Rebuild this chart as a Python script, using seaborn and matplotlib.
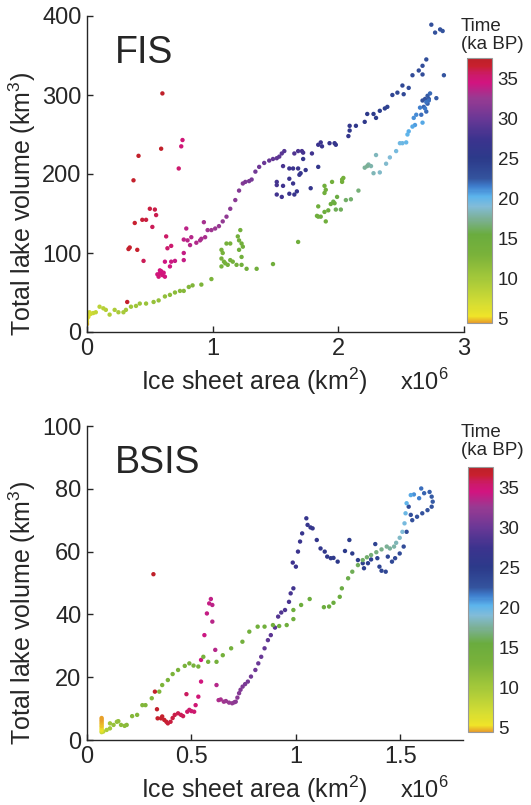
import pandas as pd
import seaborn as sns
import matplotlib.pyplot as plt
from matplotlib.colors import LinearSegmentedColormap, Normalize
from matplotlib.cm import ScalarMappable

# ---- FIS (Fennoscandian ice sheet): area (x10^6 km2), lake volume (km3), time (ka BP)
fis_area = [
    0.60, 0.59, 0.41, 0.37, 0.33, 0.34, 0.40, 0.38, 0.44, 0.47, 0.50, 0.54, 0.55, 0.52, 0.45, 0.32,
    0.63, 0.64, 0.67, 0.73, 0.76, 0.75,
    0.57, 0.58, 0.59, 0.60, 0.61, 0.58, 0.62, 0.56, 0.62, 0.66, 0.67, 0.70, 0.77, 0.77, 0.77, 0.79,
    0.80, 0.83, 0.82, 0.87, 0.90, 0.91, 0.94, 0.93, 0.96, 0.99, 1.02,
    1.05, 1.08, 1.11, 1.14, 1.18, 1.21, 1.24, 1.26, 1.29, 1.31, 1.34, 1.37, 1.41, 1.45, 1.48, 1.51,
    1.53, 1.55, 1.57, 1.65, 1.68, 1.71, 1.72,
    1.79, 1.84, 1.86, 1.87, 1.93, 1.97, 1.98, 2.08, 2.09, 2.09, 2.14, 2.21, 2.23, 2.28, 2.30, 2.33,
    2.37, 2.39, 2.43, 2.47, 2.51, 2.52, 2.56, 2.59, 2.64, 2.67, 2.70, 2.67, 2.74, 2.77, 2.81, 2.83,
    2.84, 2.78,
    1.51, 1.51, 1.51, 1.55, 1.56, 1.56, 1.61, 1.64, 1.68, 1.61, 1.64, 1.61, 1.65, 1.67, 1.69, 1.70,
    1.74, 1.72, 1.78, 1.84,
    2.67, 2.69, 2.71, 2.72, 2.71, 2.68, 2.70, 2.66, 2.72, 2.70, 2.73, 2.69,
    2.65, 2.62, 2.60, 2.61, 2.59, 2.56, 2.55, 2.54, 2.51, 2.49, 2.46, 2.67,
    2.41, 2.38, 2.33, 2.30, 2.28, 2.26, 2.24, 2.21, 2.23,
    2.16, 2.10, 2.06, 2.02, 1.98, 1.96, 1.99, 1.94, 1.97, 1.92, 1.89, 1.86, 1.84, 1.83, 1.84, 1.90,
    1.89, 1.90, 1.89, 1.95, 2.03, 2.04, 2.03,
    1.68, 1.48, 1.35, 1.27, 1.23, 1.23, 1.21, 1.23, 1.24, 1.22, 1.21, 1.20, 1.19, 1.16, 1.14, 1.12,
    1.10, 1.09, 1.07, 1.07, 1.11, 1.14, 1.07, 1.08,
    0.99, 0.91, 0.84, 0.81, 0.77, 0.74, 0.70, 0.66, 0.62, 0.57, 0.53, 0.47, 0.42, 0.39, 0.35, 0.31,
    0.29, 0.25, 0.22, 0.18, 0.15, 0.13, 0.10, 0.07, 0.05, 0.03, 0.02, 0.01, 0.01, 0.00, 0.00, 0.00,
    0.01,
]
fis_volume = [
    302, 232, 223, 192, 105, 107, 104, 138, 142, 142, 156, 155, 148, 133, 90, 38,
    121, 106, 109, 207, 243, 235,
    70, 74, 77, 72, 75, 78, 70, 73, 89, 83, 89, 90, 91, 100, 117, 131,
    116, 120, 110, 113, 116, 118, 120, 139, 129, 129, 131,
    134, 140, 146, 156, 167, 179, 188, 190, 191, 193, 203, 209, 214, 217, 219, 220,
    222, 226, 229, 226, 229, 229, 227,
    226, 237, 240, 235, 239, 239, 237, 248, 261, 255, 261, 266, 276, 276, 271, 280,
    283, 285, 300, 303, 312, 301, 309, 325, 331, 337, 345, 326, 389, 379, 383, 381,
    325, 296,
    186, 190, 174, 171, 185, 210, 207, 207, 207, 194, 188, 175, 174, 178, 199, 201,
    205, 219, 182, 209,
    293, 295, 299, 295, 289, 285, 279, 275, 293, 291, 302, 283,
    284, 275, 271, 262, 260, 254, 250, 240, 239, 239, 229, 265,
    221, 213, 202, 224, 201, 210, 212, 208, 210,
    179, 168, 167, 155, 155, 165, 171, 162, 163, 154, 152, 146, 146, 147, 159, 140,
    176, 180, 185, 190, 190, 195, 193,
    114, 86, 80, 80, 85, 95, 104, 112, 108, 129, 116, 121, 85, 89, 91, 85,
    87, 89, 93, 83, 112, 112, 104, 100,
    67, 60, 59, 57, 52, 52, 50, 47, 45, 40, 38, 36, 36, 33, 32, 28,
    25, 25, 28, 22, 28, 30, 32, 25, 24, 23, 25, 22, 19, 16, 13, 10,
    20,
]
fis_time = [
    37.2, 37.0, 36.9, 36.8, 36.7, 36.6, 36.5, 36.4, 36.3, 36.2, 36.1, 36.0, 35.9, 35.8, 35.7, 36.8,
    35.5, 35.4, 35.3, 35.2, 34.8, 34.9,
    35.0, 34.9, 34.8, 34.7, 34.6, 34.5, 34.6, 34.7, 34.4, 34.3, 34.2, 34.1, 34.0, 33.9, 33.8, 33.7,
    33.6, 33.5, 33.4, 33.3, 33.2, 33.1, 33.0, 32.9, 32.8, 32.7, 32.6,
    32.4, 32.2, 32.0, 31.8, 31.6, 31.4, 31.2, 31.0, 30.8, 30.6, 30.4, 30.2, 30.0, 29.8, 29.6, 29.4,
    29.2, 29.0, 28.8, 28.6, 28.4, 28.2, 28.0,
    27.6, 27.4, 27.2, 27.0, 26.8, 26.6, 26.4, 26.2, 26.0, 25.8, 25.6, 25.4, 25.2, 25.0, 24.8, 24.6,
    24.4, 24.2, 24.0, 23.8, 23.6, 23.5, 23.4, 23.3, 23.2, 23.1, 23.0, 23.1, 22.9, 22.8, 22.7, 22.6,
    22.5, 22.4,
    28.0, 27.9, 27.8, 27.7, 27.6, 28.1, 27.5, 27.4, 27.3, 27.2, 27.1, 27.0, 26.9, 26.8, 26.7, 26.6,
    26.5, 26.4, 26.3, 26.2,
    22.6, 22.5, 22.4, 22.3, 22.2, 22.1, 22.0, 21.9, 21.8, 21.7, 22.0, 21.6,
    21.4, 21.2, 21.0, 20.8, 20.6, 20.4, 20.2, 20.0, 19.8, 19.6, 19.4, 20.5,
    19.0, 18.8, 18.6, 18.4, 18.2, 18.0, 17.8, 17.6, 17.4,
    16.8, 16.6, 16.4, 16.2, 16.0, 15.8, 15.6, 15.4, 15.3, 15.2, 15.1, 15.0, 14.9, 14.8, 14.7, 14.6,
    14.5, 14.4, 14.3, 14.2, 14.1, 14.0, 13.9,
    14.6, 14.55, 14.5, 14.45, 14.4, 14.35, 14.3, 14.25, 14.2, 14.15, 14.1, 14.05, 14.0, 13.95, 13.9, 13.85,
    13.8, 13.75, 13.7, 13.65, 13.6, 13.55, 13.5, 13.45,
    13.0, 12.8, 12.6, 12.4, 12.2, 12.0, 11.8, 11.6, 11.4, 11.2, 11.0, 10.8, 10.6, 10.4, 10.2, 10.0,
    9.8, 9.6, 9.4, 9.2, 9.0, 8.8, 8.6, 8.2, 7.8, 7.4, 7.0, 6.6, 6.2, 5.8, 5.4, 5.0,
    6.4,
]

# ---- BSIS (Barents Sea ice sheet)
bsis_area = [
    0.318, 0.325, 0.335, 0.338, 0.354, 0.36, 0.37, 0.38, 0.387, 0.40, 0.41, 0.42, 0.436, 0.45, 0.46, 0.476,
    0.48, 0.49, 0.50, 0.513,
    0.52, 0.533, 0.546, 0.546, 0.562, 0.574, 0.585, 0.593, 0.60, 0.60, 0.614, 0.62, 0.63, 0.64,
    0.655, 0.665, 0.68, 0.695, 0.705, 0.712, 0.72, 0.728, 0.735, 0.745, 0.757, 0.77, 0.785, 0.806, 0.82, 0.834,
    0.85, 0.866, 0.88, 0.90, 0.915, 0.93, 0.948, 0.967, 0.975, 0.988,
    0.985, 1.00, 1.01, 1.02, 1.03, 1.05, 1.056, 1.07, 1.08, 1.10, 1.118, 1.138, 1.15, 1.167, 1.18, 1.20,
    1.235, 1.256, 1.27, 1.297, 1.32, 1.326, 1.345, 1.36, 1.38, 1.39, 1.40, 1.41, 1.43, 1.44, 1.46, 1.475,
    1.497, 1.516, 1.53, 1.54, 1.55, 1.557, 1.58, 1.605, 1.63, 1.65, 1.655, 1.65, 1.64, 1.614,
    1.60, 1.59, 1.565, 1.55, 1.53, 1.525, 1.52, 1.51, 1.497, 1.48,
    1.47, 1.45, 1.435, 1.41, 1.385, 1.36, 1.34, 1.32, 1.297, 1.27, 1.25, 1.22, 1.21, 1.18, 1.159, 1.134,
    1.066, 1.025, 0.988, 0.988, 0.956, 0.92, 0.89, 0.85, 0.817, 0.777, 0.744, 0.69, 0.65, 0.62, 0.58, 0.557,
    0.533, 0.51, 0.49, 0.468, 0.436, 0.41, 0.387, 0.36, 0.346, 0.31, 0.28, 0.265, 0.24, 0.216, 0.19, 0.18,
    0.163, 0.15, 0.143, 0.127, 0.11, 0.11, 0.094, 0.078, 0.07,
    0.07, 0.07, 0.07, 0.07, 0.07, 0.07, 0.07, 0.07, 0.07,
]
bsis_volume = [
    52.8, 15.4, 9.8, 6.9, 6.9, 7.5, 6.4, 5.8, 5.3, 5.8, 7.0, 8.0, 8.5, 8.0, 7.6, 14.6,
    9.0, 9.6, 9.2, 9.0,
    11.1, 13.8, 18.6, 25.5, 33.4, 40.3, 43.5, 44.9, 43.0, 37.7, 28.7, 17.5, 12.7, 12.9,
    12.2, 12.4, 11.9, 11.7, 12.0, 12.2, 13.5, 14.9, 16.0, 17.0, 17.8, 18.6, 20.2, 22.3, 24.4, 26.5,
    29.2, 31.8, 33.4, 35.8, 39.3, 40.6, 41.4, 44.0, 46.7, 48.3,
    56.5, 55.2, 60.0, 63.2, 65.8, 70.6, 68.5, 67.7, 67.4, 63.7, 61.0, 60.0, 58.4, 57.9, 58.0, 56.8,
    60.2, 63.7, 59.4, 57.3, 56.3, 54.7, 56.3, 57.5, 62.4, 57.9, 55.2, 53.9, 53.6, 58.4, 56.8, 57.9,
    59.4, 61.6, 66.3, 74.3, 71.7, 70.0, 71.1, 72.2, 73.2, 74.3, 75.9, 77.5, 79.0, 78.6,
    80.1, 77.0, 78.2, 78.0, 75.4, 72.2, 69.0, 66.3, 64.4, 62.8,
    61.6, 61.0, 61.6, 60.7, 59.8, 58.9, 58.2, 57.3, 55.7, 53.6, 51.5, 48.3, 45.6, 43.7, 42.5, 42.3,
    44.9, 43.0, 41.4, 38.5, 36.6, 36.3, 36.6, 36.1, 36.1, 34.5, 31.3, 29.2, 27.0, 24.9, 24.9, 26.5,
    23.4, 23.7, 24.4, 23.6, 22.3, 21.0, 19.1, 17.5, 15.4, 13.3, 11.1, 11.1, 8.0, 7.6, 4.8, 4.5,
    4.8, 6.0, 5.8, 4.8, 5.3, 3.7, 3.2, 2.7, 2.5,
    3.0, 3.5, 4.0, 4.5, 5.0, 5.5, 6.0, 6.5, 7.0,
]
bsis_time = [
    37.2, 37.0, 36.9, 36.8, 36.7, 36.6, 36.5, 36.4, 36.3, 36.2, 36.1, 36.0, 35.9, 35.8, 35.7, 35.6,
    35.5, 35.4, 35.3, 35.2,
    35.0, 34.8, 34.6, 34.4, 34.2, 34.0, 33.9, 33.8, 33.7, 33.6, 33.5, 33.4, 33.2, 33.0,
    32.8, 32.6, 32.4, 32.2, 32.0, 31.8, 31.6, 31.4, 31.2, 31.0, 30.8, 30.6, 30.4, 30.2, 30.0, 29.8,
    29.6, 29.4, 29.2, 29.0, 28.8, 28.6, 28.4, 28.2, 28.0, 27.8,
    27.6, 27.4, 27.2, 27.0, 26.8, 26.6, 26.5, 26.4, 26.3, 26.2, 26.0, 25.8, 25.6, 25.4, 25.3, 25.2,
    25.0, 24.9, 24.8, 24.7, 24.6, 24.5, 24.4, 24.3, 24.2, 24.1, 24.0, 23.9, 23.8, 23.7, 23.6, 23.5,
    23.4, 23.3, 23.2, 23.1, 23.0, 22.9, 22.8, 22.7, 22.6, 22.5, 22.4, 22.3, 22.2, 22.1,
    21.8, 21.5, 21.0, 20.6, 20.2, 19.8, 19.4, 19.0, 18.6, 18.2,
    17.8, 17.6, 17.4, 17.2, 17.0, 16.8, 16.6, 16.4, 16.2, 16.0, 15.8, 15.6, 15.5, 15.4, 15.3, 15.2,
    15.1, 15.0, 14.9, 14.8, 14.7, 14.6, 14.5, 14.4, 14.3, 14.2, 14.1, 14.0, 13.9, 13.8, 13.7, 13.6,
    13.5, 13.4, 13.3, 13.2, 13.1, 13.0, 12.9, 12.8, 12.7, 12.6, 12.5, 12.4, 12.3, 12.2, 12.0, 11.8,
    11.6, 11.4, 11.2, 11.0, 10.6, 10.2, 9.6, 8.6, 7.6,
    6.0, 5.6, 5.2, 5.0, 4.9, 4.8, 4.7, 4.6, 4.5,
]

# colour scale of the time bar
t_min, t_max = 4.5, 37.5
cmap_stops = [4.5, 5.3, 7.0, 10.0, 13.0, 15.5, 17.5, 19.0, 20.3, 21.5, 22.5, 25.0, 27.5, 30.0, 32.5,
              34.5, 35.5, 36.5, 37.5]
cmap_colors = ['#e8a02a', '#f0e428', '#d2dc34', '#a4c83a', '#7ab23a', '#6aac3e', '#7cb098', '#82bcd8',
               '#5cb4ec', '#3e7ccc', '#34549e', '#2c3a8a', '#3c338e', '#6a3896', '#983a92', '#d21480',
               '#cc1a6a', '#c8202e', '#bc2028']

sns.set_style("ticks")
plt.rcParams['font.family'] = ['Liberation Sans', 'DejaVu Sans']
plt.rcParams['mathtext.fontset'] = 'custom'
plt.rcParams['mathtext.rm'] = 'Liberation Sans'

cmap = LinearSegmentedColormap.from_list(
    'time', [((v - t_min) / (t_max - t_min), c) for v, c in zip(cmap_stops, cmap_colors)])
norm = Normalize(t_min, t_max)

fig = plt.figure(figsize=(5.31, 8.05), dpi=100)
W, H = 531, 805


def px(x0, y0, x1, y1):
    # pixel box -> figure fraction rect
    return [x0 / W, 1 - y1 / H, (x1 - x0) / W, (y1 - y0) / H]


panels = [
    dict(area=fis_area, vol=fis_volume, t=fis_time, name='FIS', box=(87, 16, 464, 332),
         cbox=(467, 58, 492, 323), xlim=3, xt=[0, 1, 2, 3], xtl=['0', '1', '2', '3'],
         ylim=400, yt=[0, 100, 200, 300, 400], top=18),
    dict(area=bsis_area, vol=bsis_volume, t=bsis_time, name='BSIS', box=(87, 426, 463, 740),
         cbox=(468, 467, 493, 732), xlim=1.8, xt=[0, 0.5, 1, 1.5], xtl=['0', '0.5', '1', '1.5'],
         ylim=100, yt=[0, 20, 40, 60, 80, 100], top=424),
]

for p in panels:
    ax = fig.add_axes(px(*p['box']))
    df = pd.DataFrame({'area': p['area'], 'volume': p['vol'], 'time': p['t']})
    sns.scatterplot(data=df, x='area', y='volume', hue='time', palette=cmap, hue_norm=norm,
                    s=10, linewidth=0, legend=False, ax=ax)
    ax.set_xlim(0, p['xlim'])
    ax.set_ylim(0, p['ylim'])
    ax.set_xticks(p['xt'])
    ax.set_xticklabels(p['xtl'])
    ax.set_yticks(p['yt'])
    ax.tick_params(direction='in', length=4, width=1, labelsize=17, pad=4)
    for s in ['top', 'right']:
        ax.spines[s].set_visible(False)
    for s in ['left', 'bottom']:
        ax.spines[s].set_linewidth(1)
    ax.set_xlabel('')
    ax.set_ylabel('')
    ax.text(0.075, 0.85, p['name'], transform=ax.transAxes, fontsize=27, va='baseline')

    x0, y0, x1, y1 = p['box']
    fig.text(254 / W, 1 - (y1 + 58) / H, 'Ice sheet area (km$^2$)', ha='center', va='baseline',
             fontsize=18)
    fig.text(400 / W, 1 - (y1 + 58) / H, 'x10$^6$', ha='left', va='baseline', fontsize=17)
    fig.text(22 / W, 1 - ((y0 + y1) / 2 + 30) / H, 'Total lake volume (km$^3$)', rotation=90,
             ha='center', va='center', fontsize=18)

    cax = fig.add_axes(px(*p['cbox']))
    cb = fig.colorbar(ScalarMappable(norm=norm, cmap=cmap), cax=cax, ticks=[5, 10, 15, 20, 25, 30, 35])
    cb.outline.set_edgecolor('#999999')
    cb.outline.set_linewidth(0.8)
    cax.tick_params(direction='in', length=3, labelsize=13.5, pad=4)
    fig.text(461 / W, 1 - p['top'] / H, 'Time\n(ka BP)', ha='left', va='top', fontsize=13.5,
             linespacing=1.05)

fig.savefig('out.png', dpi=100)
